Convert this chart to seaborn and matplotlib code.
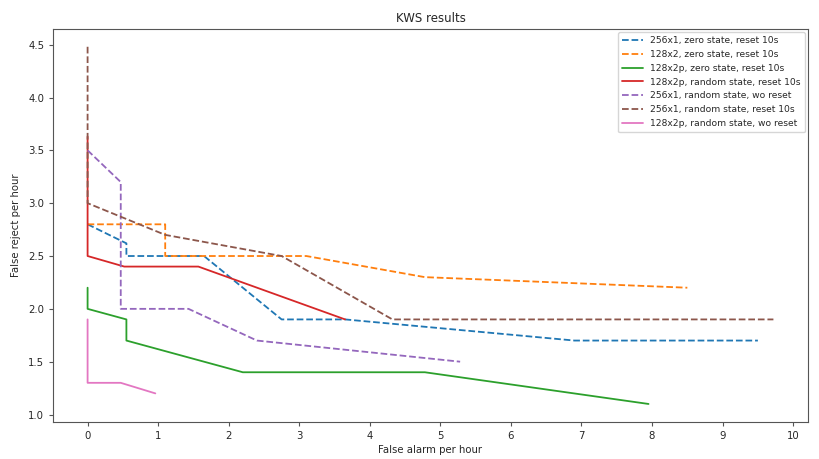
import matplotlib
matplotlib.use("Agg")
import matplotlib.pyplot as plt
import seaborn as sns

# Series values (false alarm / false reject per hour)
labels = [
    "256x1, zero state, reset 10s",
    "128x2, zero state, reset 10s",
    "128x2p, zero state, reset 10s",
    "128x2p, random state, reset 10s",
    "256x1, random state, wo reset",
    "256x1, random state, reset 10s",
    "128x2p, random state, wo reset",
]

fa_256x1_zero = [0, 0.55, 0.55, 1.65, 2.75, 3.65, 6.9, 9.5]
fr_256x1_zero = [2.8, 2.62, 2.5, 2.5, 1.9, 1.9, 1.7, 1.7]

fa_128x2_zero = [0, 1.1, 1.1, 3.1, 4.78, 8.5]
fr_128x2_zero = [2.8, 2.8, 2.5, 2.5, 2.3, 2.2]

fa_128x2p_zero = [0, 0, 0.55, 0.55, 2.2, 4.78, 7.95]
fr_128x2p_zero = [2.2, 2.0, 1.9, 1.7, 1.4, 1.4, 1.1]

fa_128x2p_rand = [0, 0, 0.52, 1.57, 3.65]
fr_128x2p_rand = [3.63, 2.5, 2.4, 2.4, 1.9]

fa_256x1_rand_wo = [0, 0.47, 0.47, 1.43, 2.4, 5.28]
fr_256x1_rand_wo = [3.5, 3.2, 2.0, 2.0, 1.7, 1.5]

fa_256x1_rand = [0, 0, 1.1, 2.75, 4.32, 9.72]
fr_256x1_rand = [4.48, 3.0, 2.7, 2.5, 1.9, 1.9]

fa_128x2p_rand_wo = [0, 0, 0.47, 0.96]
fr_128x2p_rand_wo = [1.9, 1.3, 1.3, 1.2]

xs = [fa_256x1_zero, fa_128x2_zero, fa_128x2p_zero, fa_128x2p_rand,
      fa_256x1_rand_wo, fa_256x1_rand, fa_128x2p_rand_wo]
ys = [fr_256x1_zero, fr_128x2_zero, fr_128x2p_zero, fr_128x2p_rand,
      fr_256x1_rand_wo, fr_256x1_rand, fr_128x2p_rand_wo]
styles = ["--", "--", "-", "-", "--", "--", "-"]
yticks = [1.0, 1.5, 2.0, 2.5, 3.0, 3.5, 4.0, 4.5]

sns.set_style("ticks")
plt.rcParams["font.family"] = ["DejaVu Sans"]

palette = sns.color_palette("tab10")

fig, ax = plt.subplots(figsize=(8.2, 4.59), dpi=100)
fig.subplots_adjust(left=0.065, right=0.985, top=0.937, bottom=0.081)

for i, (x, y, ls, lab) in enumerate(zip(xs, ys, styles, labels)):
    sns.lineplot(x=x, y=y, sort=False, estimator=None, ax=ax,
                 color=palette[i], linestyle=ls, linewidth=1.3, label=lab)

ax.set_xticks(range(0, 11))
ax.set_yticks(yticks)
ax.set_yticklabels([f"{v:.1f}" for v in yticks])
ax.tick_params(labelsize=7.3, length=3, color="#555555")
for s in ax.spines.values():
    s.set_color("#555555")

ax.set_title("KWS results", fontsize=8.5, pad=5)
ax.set_xlabel("False alarm per hour", fontsize=7.3, labelpad=3)
ax.set_ylabel("False reject per hour", fontsize=7.3, labelpad=5)
ax.legend(loc="upper right", fontsize=6.6, frameon=True, handlelength=2.2,
          labelspacing=0.52, borderpad=0.5, borderaxespad=0.3)

plt.savefig("out.png", dpi=100)
plt.close()
